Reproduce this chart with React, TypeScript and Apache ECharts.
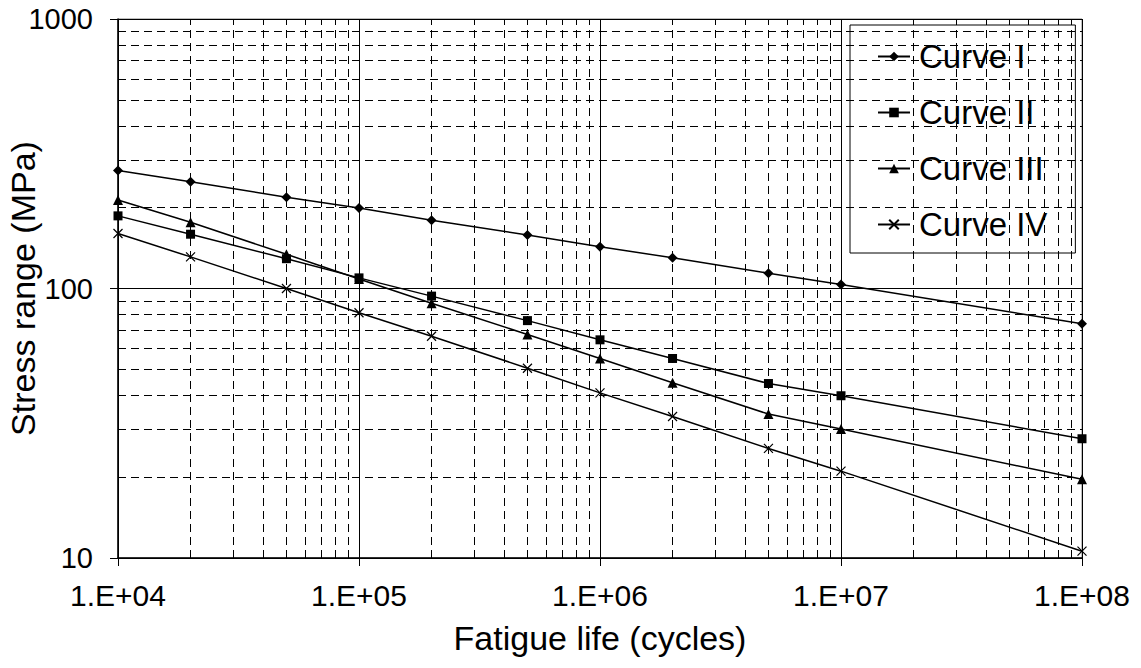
import React, { useEffect, useRef } from "react";
import * as echarts from "echarts";

const cycles = [1e4, 2e4, 5e4, 1e5, 2e5, 5e5, 1e6, 2e6, 5e6, 1e7, 1e8];
const curveI = [274, 249, 218, 199, 179, 158, 143, 130, 114, 103.5, 74];
const curveII = [186, 159, 129, 109.5, 93.7, 76, 64.5, 55, 44.4, 40, 27.7];
const curveIII = [213, 176, 134, 108.5, 88.2, 67.5, 55, 44.7, 34.2, 30.1, 19.6];
const curveIV = [160, 131, 100, 81.3, 66.5, 50.6, 41, 33.5, 25.5, 21, 10.6];
const seriesNames = ["Curve I", "Curve II", "Curve III", "Curve IV"];
const xDecades = [1e4, 1e5, 1e6, 1e7];
const yDecades = [10, 100];
const minorMultipliers = [2, 3, 4, 5, 6, 7, 8, 9];

const FONT = "'Liberation Sans', Arial, sans-serif";
const CROSS = "path://M0,0L10,10M10,0L0,10";

export default function App() {
  const ref = useRef<HTMLDivElement>(null);
  useEffect(() => {
    if (!ref.current) return;
    const chart = echarts.init(ref.current, null, { renderer: "svg" });
    const xMinor: number[] = [];
    xDecades.forEach((d) => minorMultipliers.forEach((m) => xMinor.push(d * m)));
    const yMinor: number[] = [];
    yDecades.forEach((d) => minorMultipliers.forEach((m) => yMinor.push(d * m)));
    const pairs = (ys: number[]) => cycles.map((x, i) => [x, ys[i]]);
    const lineStyle = { color: "#000", width: 1.5 };
    const fmtX = (v: number) => {
      const e = Math.round(Math.log10(v));
      return "1.E+" + String(e).padStart(2, "0");
    };
    const fmtY = (v: number) => String(Math.round(v));
    chart.setOption({
      animation: false,
      backgroundColor: "#fff",
      grid: {
        left: 118,
        right: 59,
        top: 19,
        bottom: 110,
        containLabel: false,
        outerBoundsMode: "none",
        show: true,
        borderColor: "#808080",
        borderWidth: 1,
        backgroundColor: "transparent",
      },
      legend: {
        left: 850,
        top: 25,
        orient: "vertical",
        backgroundColor: "#fff",
        borderColor: "#000",
        borderWidth: 1,
        padding: [15, 28, 12, 27],
        itemGap: 23,
        itemWidth: 32,
        itemHeight: 12,
        textStyle: { fontFamily: FONT, fontSize: 33, color: "#000", padding: [0, 0, 0, 4] },
        data: seriesNames,
      },
      xAxis: {
        type: "log",
        logBase: 10,
        min: 1e4,
        max: 1e8,
        name: "Fatigue life (cycles)",
        nameLocation: "middle",
        nameGap: 63,
        nameMoveOverlap: false,
        nameTextStyle: { fontFamily: FONT, fontSize: 34, color: "#000" },
        axisLine: { show: true, lineStyle: { color: "#000", width: 1.5 } },
        axisTick: { show: true, inside: false, length: 8, lineStyle: { color: "#000", width: 1 } },
        axisLabel: { fontFamily: FONT, fontSize: 30, color: "#000", margin: 22, formatter: fmtX },
        splitLine: { show: true, lineStyle: { color: "#000", width: 1 } },
        minorTick: { show: false },
        minorSplitLine: { show: false },
      },
      yAxis: {
        type: "log",
        logBase: 10,
        min: 10,
        max: 1000,
        name: "Stress range (MPa)",
        nameLocation: "middle",
        nameGap: 78,
        nameMoveOverlap: false,
        nameTextStyle: { fontFamily: FONT, fontSize: 34, color: "#000" },
        axisLine: { show: true, lineStyle: { color: "#000", width: 1.5 } },
        axisTick: { show: true, inside: false, length: 8, lineStyle: { color: "#000", width: 1 } },
        axisLabel: { fontFamily: FONT, fontSize: 29, color: "#000", margin: 25, formatter: fmtY },
        splitLine: { show: true, lineStyle: { color: "#000", width: 1 } },
        minorTick: { show: false },
        minorSplitLine: { show: false },
      },
      series: [
        {
          name: "__minorgrid",
          type: "line",
          data: [],
          silent: true,
          z: 1,
          markLine: {
            silent: true,
            symbol: "none",
            animation: false,
            label: { show: false },
            emphasis: { disabled: true },
            lineStyle: { color: "#000", width: 1, type: [8, 5] },
            data: [
              ...xMinor.map((v) => ({ xAxis: v })),
              ...yMinor.map((v) => ({ yAxis: v })),
            ],
          },
        },
        {
          name: seriesNames[0],
          type: "line",
          data: pairs(curveI),
          symbol: "diamond",
          symbolSize: 10,
          lineStyle,
          itemStyle: { color: "#000" },
          z: 5,
        },
        {
          name: seriesNames[1],
          type: "line",
          data: pairs(curveII),
          symbol: "rect",
          symbolSize: 9,
          lineStyle,
          itemStyle: { color: "#000" },
          z: 5,
        },
        {
          name: seriesNames[2],
          type: "line",
          data: pairs(curveIII),
          symbol: "triangle",
          symbolSize: 10,
          lineStyle,
          itemStyle: { color: "#000" },
          z: 5,
        },
        {
          name: seriesNames[3],
          type: "line",
          data: pairs(curveIV),
          symbol: CROSS,
          symbolSize: 9,
          lineStyle,
          itemStyle: { color: "#000", borderColor: "#000", borderWidth: 1.2 },
          z: 5,
        },
      ],
    });
    return () => chart.dispose();
  }, []);
  return <div ref={ref} style={{ width: 1141, height: 668, position: "absolute", left: 0, top: 0 }} />;
}
